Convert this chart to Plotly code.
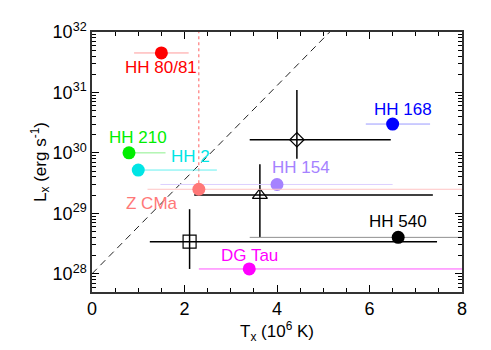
import plotly.graph_objects as go

# ---- data ----
names = ["HH 80/81", "HH 210", "HH 2", "HH 168", "HH 154", "Z CMa", "HH 540", "DG Tau"]
tx = [1.5, 0.8, 1.0, 6.5, 4.0, 2.31, 6.62, 3.40]
lx = [4.5e31, 1.0e30, 5.2e29, 3.0e30, 3.0e29, 2.5e29, 4.0e28, 1.2e28]
tx_lo = [0.91, 0.78, 0.98, 5.92, 1.48, 1.20, 3.41, 2.31]
tx_hi = [2.09, 1.59, 2.70, 7.31, 6.50, 8.60, 8.60, 8.60]
colors = ["#ff0000", "#00ee00", "#00e5e5", "#0000ff", "#a582ff", "#ff7878", "#000000", "#ff00ff"]
err_colors = ["#ff9a9a", "#8cf08c", "#66f0f0", "#9a9aff", "#ddd0ff", "#ffc4c4", "#909090", "#ff55ff"]
label_x = [1.49, 1.0, 2.12, 6.72, 4.51, 1.30, 6.61, 3.41]
label_logy = [31.41, 30.26, 29.946, 30.716, 29.76, 29.17, 28.87, 28.31]

# open-symbol samples with x and y errors
open_sym = ["diamond-open", "triangle-up-open", "square-open"]
open_tx = [4.43, 3.63, 2.11]
open_lx = [1.65e30, 2.0e29, 3.4e28]
open_tx_lo = [3.41, 2.21, 1.25]
open_tx_hi = [6.46, 7.37, 7.46]
open_lx_lo = [8.0e29, 4.0e28, 1.2e28]
open_lx_hi = [1.1e31, 6.5e29, 1.17e29]

dash_x = [0.0, 5.14]
dash_y = [1e28, 1e32]
dot_x = [2.31, 2.31]
dot_y = [2.5e29, 1e32]

ytick_pows = [28, 29, 30, 31, 32]
xtick_vals = [0, 2, 4, 6, 8]

fig = go.Figure()

# dashed reference line
fig.add_trace(go.Scatter(x=dash_x, y=dash_y, mode="lines",
                         line=dict(color="#222222", width=1, dash="7px,5px"),
                         showlegend=False, hoverinfo="skip"))
# dotted red vertical
fig.add_trace(go.Scatter(x=dot_x, y=dot_y, mode="lines",
                         line=dict(color="#ff6060", width=1, dash="dot"),
                         showlegend=False, hoverinfo="skip"))

# open symbols with error bars
for i in range(len(open_tx)):
    fig.add_trace(go.Scatter(
        x=[open_tx[i]], y=[open_lx[i]], mode="markers",
        marker=dict(symbol=open_sym[i], size=13 if i != 0 else 11,
                    color="black", line=dict(width=1.2, color="black")),
        error_x=dict(type="data", symmetric=False,
                     array=[open_tx_hi[i] - open_tx[i]],
                     arrayminus=[open_tx[i] - open_tx_lo[i]],
                     width=0, thickness=1.5, color="black"),
        error_y=dict(type="data", symmetric=False,
                     array=[open_lx_hi[i] - open_lx[i]],
                     arrayminus=[open_lx[i] - open_lx_lo[i]],
                     width=0, thickness=1.5, color="black"),
        showlegend=False, hoverinfo="skip"))

# filled circles
for i in range(len(names)):
    fig.add_trace(go.Scatter(
        x=[tx[i]], y=[lx[i]], mode="markers",
        marker=dict(symbol="circle", size=13, color=colors[i], line=dict(width=0)),
        error_x=dict(type="data", symmetric=False,
                     array=[tx_hi[i] - tx[i]],
                     arrayminus=[tx[i] - tx_lo[i]],
                     width=0, thickness=1, color=err_colors[i]),
        showlegend=False, hoverinfo="skip"))
    fig.add_annotation(x=label_x[i], y=label_logy[i], text=names[i], showarrow=False,
                       font=dict(size=17, color=colors[i], family="Liberation Sans, Arial"),
                       xanchor="center", yanchor="middle")

minor_y = [float(m) * 10.0 ** p for p in range(27, 32) for m in range(2, 10)]

fig.update_layout(
    width=483, height=342,
    margin=dict(l=84, r=28.5, t=21, b=58.3),
    paper_bgcolor="white", plot_bgcolor="white",
    font=dict(family="Liberation Sans, Arial", size=18, color="black"),
    xaxis=dict(range=[0, 8], tickvals=xtick_vals, ticks="inside", ticklen=7,
               tickwidth=1, tickcolor="black", showgrid=False, zeroline=False,
               showline=True, linecolor="#333333", linewidth=1.5, mirror="ticks",
               minor=dict(ticks="inside", dtick=0.5, ticklen=4, tickcolor="black"),
               title=dict(text="T<sub>x</sub> (10<sup>6</sup> K)", standoff=4,
                          font=dict(size=17))),
    yaxis=dict(type="log", range=[27.698, 32],
               tickvals=[10.0 ** p for p in ytick_pows],
               ticktext=["10<sup>%d</sup>" % p for p in ytick_pows],
               ticks="inside", ticklen=7, tickwidth=1, tickcolor="black",
               showgrid=False, zeroline=False,
               showline=True, linecolor="#333333", linewidth=1.5, mirror="ticks",
               minor=dict(ticks="inside", tickvals=minor_y, ticklen=4, tickcolor="black"),
               title=dict(text="L<sub>x</sub> (erg s<sup>-1</sup>)", standoff=2,
                          font=dict(size=17))),
)

fig.write_html("out.html")
